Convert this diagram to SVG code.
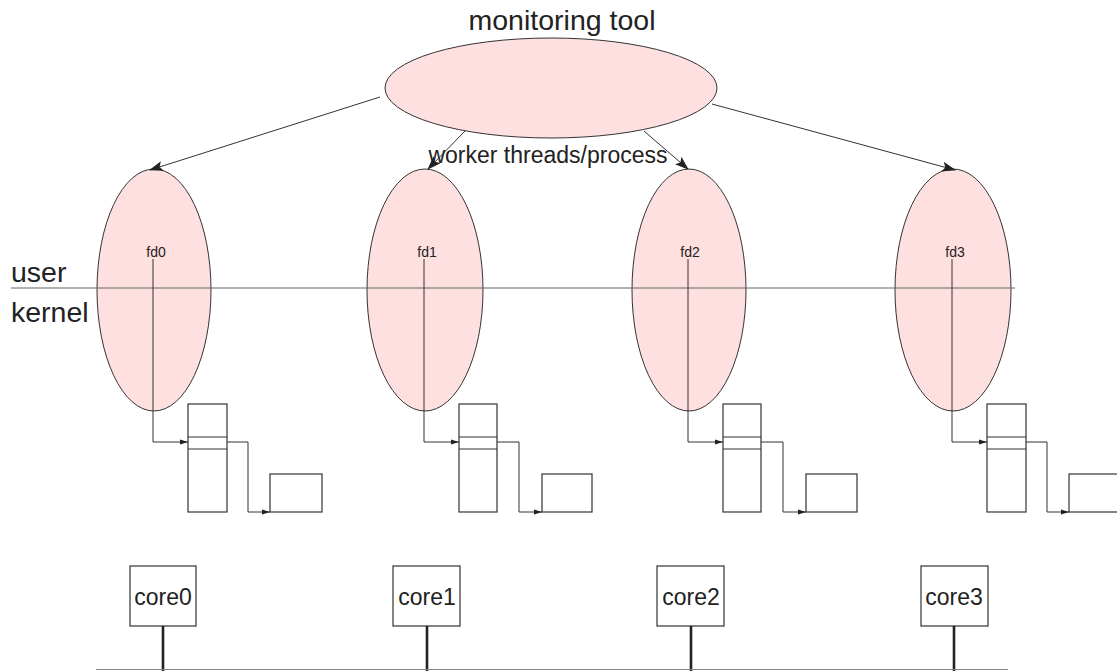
<svg xmlns="http://www.w3.org/2000/svg" width="1117" height="671" viewBox="0 0 1117 671">
<style>
text{font-family:"Liberation Sans",Arial,sans-serif;fill:#222}
.ell{fill:#ffe0e0;stroke:#333;stroke-width:1}
.box{fill:none;stroke:#333;stroke-width:1.2}
.ln{fill:none;stroke:#333;stroke-width:1}
.big{font-size:28.5px}
.mid{font-size:23px}
.fd{font-size:14px}
.core{fill:#fff;stroke:#333;stroke-width:1.2}
.bus{stroke:#222;stroke-width:2.6}
</style>
<defs>
<marker id="ah" markerWidth="14" markerHeight="10" refX="13" refY="5" orient="auto" markerUnits="userSpaceOnUse"><path d="M0,0 L14,5 L0,10 L3,5 Z" fill="#222"/></marker>
<marker id="sh" markerWidth="8" markerHeight="6" refX="8" refY="3" orient="auto" markerUnits="userSpaceOnUse"><path d="M0,0.5 L8,3 L0,5.5 Z" fill="#222"/></marker>
</defs>
<rect width="1117" height="671" fill="#fff"/>
<g id="monitor">
<ellipse class="ell" cx="551" cy="88" rx="166" ry="50"/>
<text class="big" x="562" y="30" text-anchor="middle">monitoring tool</text>
</g>
<g id="fd0"><ellipse class="ell" cx="154" cy="290" rx="57" ry="121"/><text class="fd" x="156" y="257" text-anchor="middle">fd0</text></g>
<g id="fd1"><ellipse class="ell" cx="425" cy="290" rx="58" ry="121"/><text class="fd" x="427" y="257" text-anchor="middle">fd1</text></g>
<g id="fd2"><ellipse class="ell" cx="689" cy="290" rx="57" ry="121"/><text class="fd" x="690" y="257" text-anchor="middle">fd2</text></g>
<g id="fd3"><ellipse class="ell" cx="953" cy="290" rx="58" ry="121"/><text class="fd" x="955" y="257" text-anchor="middle">fd3</text></g>
<g id="userkernel">
<line x1="11" y1="288" x2="1015" y2="288" stroke="#666" stroke-width="1.2"/>
<text class="big" x="11" y="282">user</text>
<text class="big" x="11" y="322">kernel</text>
</g>
<g id="label-worker"><text class="mid" x="548" y="163" text-anchor="middle">worker threads/process</text></g>
<g id="stack0"><rect class="box" x="188" y="404" width="39" height="108"/><line class="ln" x1="188" y1="437" x2="227" y2="437"/><line class="ln" x1="188" y1="449" x2="227" y2="449"/></g>
<g id="stack1"><rect class="box" x="459" y="404" width="38" height="108"/><line class="ln" x1="459" y1="437" x2="497" y2="437"/><line class="ln" x1="459" y1="449" x2="497" y2="449"/></g>
<g id="stack2"><rect class="box" x="723" y="404" width="38" height="108"/><line class="ln" x1="723" y1="437" x2="761" y2="437"/><line class="ln" x1="723" y1="449" x2="761" y2="449"/></g>
<g id="stack3"><rect class="box" x="987" y="404" width="39" height="108"/><line class="ln" x1="987" y1="437" x2="1026" y2="437"/><line class="ln" x1="987" y1="449" x2="1026" y2="449"/></g>
<g id="buf0"><rect class="box" x="270" y="474" width="52" height="38"/></g>
<g id="buf1"><rect class="box" x="542" y="474" width="50" height="38"/></g>
<g id="buf2"><rect class="box" x="806" y="474" width="51" height="38"/></g>
<g id="buf3"><rect class="box" x="1069" y="474" width="52" height="38"/></g>
<g id="core0"><rect class="core" x="130" y="566" width="66" height="60"/><text class="mid" x="163" y="605" text-anchor="middle">core0</text></g>
<g id="core1"><rect class="core" x="393" y="566" width="67" height="60"/><text class="mid" x="427" y="605" text-anchor="middle">core1</text></g>
<g id="core2"><rect class="core" x="657" y="566" width="67" height="60"/><text class="mid" x="691" y="605" text-anchor="middle">core2</text></g>
<g id="core3"><rect class="core" x="921" y="566" width="67" height="60"/><text class="mid" x="954" y="605" text-anchor="middle">core3</text></g>
<g id="connectors">
<line class="ln" x1="380" y1="97" x2="150" y2="170" marker-end="url(#ah)"/>
<line class="ln" x1="465" y1="131" x2="428" y2="169" marker-end="url(#ah)"/>
<line class="ln" x1="644" y1="131" x2="688" y2="169" marker-end="url(#ah)"/>
<line class="ln" x1="712" y1="104" x2="955" y2="170" marker-end="url(#ah)"/>
<polyline class="ln" points="153,259 153,442 188,442" marker-end="url(#sh)"/>
<polyline class="ln" points="424,259 424,442 459,442" marker-end="url(#sh)"/>
<polyline class="ln" points="688,259 688,442 723,442" marker-end="url(#sh)"/>
<polyline class="ln" points="952,259 952,442 987,442" marker-end="url(#sh)"/>
<polyline class="ln" points="227,442 248,442 248,512 270,512" marker-end="url(#sh)"/>
<polyline class="ln" points="497,442 519,442 519,512 542,512" marker-end="url(#sh)"/>
<polyline class="ln" points="761,442 783,442 783,512 806,512" marker-end="url(#sh)"/>
<polyline class="ln" points="1026,442 1047,442 1047,512 1069,512" marker-end="url(#sh)"/>
<line class="bus" x1="163" y1="626" x2="163" y2="671"/>
<line class="bus" x1="427" y1="626" x2="427" y2="671"/>
<line class="bus" x1="691" y1="626" x2="691" y2="671"/>
<line class="bus" x1="954" y1="626" x2="954" y2="671"/>
<line x1="96" y1="669.5" x2="1008" y2="669.5" stroke="#888" stroke-width="1.2"/>
</g>
</svg>
